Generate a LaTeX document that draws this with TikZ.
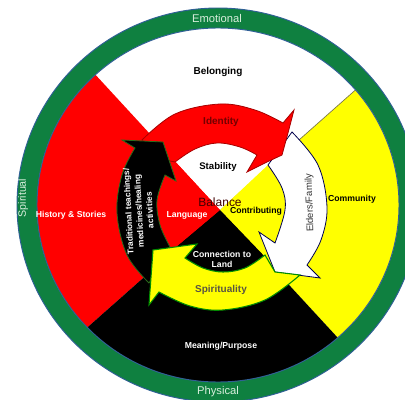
\documentclass[tikz,border=0pt]{standalone}
\usepackage{fontspec}
\setmainfont{Liberation Sans}
\definecolor{ringgreen}{HTML}{0F8040}
\definecolor{ringblue}{HTML}{2F5F96}
\definecolor{arrowgreen}{HTML}{2A6A1A}
\definecolor{paleletter}{HTML}{D8EEDC}
\definecolor{pureyellow}{RGB}{255,255,0}
\definecolor{purered}{RGB}{255,0,0}
\tikzset{
  lab/.style={font=\bfseries\fontsize{6.5}{7.5}\selectfont,align=center,inner sep=0pt},
  ringlab/.style={font=\fontsize{8.4}{10}\selectfont,text=paleletter,inner sep=0pt},
  arrowedge/.style={line width=.6pt,line join=miter},
  smoothp/.style={smooth,tension=.6}
}
\begin{document}
\begin{tikzpicture}[x=0.75pt,y=-0.75pt]
\useasboundingbox (0,0) rectangle (405,400);
\clip (0,0) rectangle (405,400);
\fill[white] (0,0) rectangle (405,400);
\coordinate (c) at (218,205);
\coordinate (m) at (220,210);
% ring
\fill[ringgreen,draw=ringblue,line width=.7pt] (c) ellipse (201 and 197);
\begin{scope}
\clip (c) ellipse (181 and 177);
\fill[white] (0,0) rectangle (405,400);
\fill[purered] (m) -- (34,8) -- (0,8) -- (0,400) -- (20,387) -- cycle;
\fill[pureyellow] (m) -- (422,31) -- (420,402) -- (397,402) -- cycle;
\fill[black] (m) -- (20,387) -- (20,420) -- (397,420) -- (397,402) -- cycle;
\draw[black!60!yellow,line width=.5pt] (m) -- (422,31);
\end{scope}
\draw[ringblue,line width=.7pt] (c) ellipse (181 and 177);
% inner sectors
\fill[white] (m) -- (172,158) -- (217,135) -- (272,160) -- cycle;
\fill[pureyellow] (m) -- (268,165) -- (290,210) -- (276,248) -- (268,260) -- cycle;
\fill[black] (m) -- (268,260) -- (223,280) -- (170,252) -- cycle;
\fill[purered] (m) -- (172,158) -- (150,200) -- (170,252) -- cycle;
% white arrow
\fill[white,draw=black!70!blue,arrowedge]
  plot[smoothp] coordinates {(292,132) (318,165) (327,207) (321,240) (307,265)}
  -- (320,278) -- (275,272) -- (259,232)
  -- plot[smoothp] coordinates {(275,243) (285,210) (282,188) (268,165)} -- cycle;
% red arrow
\fill[purered,draw=red!65!black,arrowedge]
  plot[smoothp] coordinates {(142,140) (175,114) (220,104) (255,110) (283,123)}
  -- (294,110) -- (288,133) -- (282,155) -- (267,162) -- (247,172)
  -- plot[smoothp] coordinates {(257,155) (240,147) (217,143) (195,149) (175,162)}
  -- (165,160) -- cycle;
% black arrow
\fill[black,draw=arrowgreen,arrowedge]
  plot[smoothp] coordinates {(149,283) (127,255) (117,213) (122,175) (135,148)}
  -- (122,140) -- (163,142) -- (176,181)
  -- plot[smoothp] coordinates {(165,175) (157,200) (160,225) (170,247)} -- cycle;
% yellow arrow
\fill[pureyellow,draw=green!55!black,line width=.8pt,line join=miter]
  plot[smoothp] coordinates {(159,292) (190,306) (223,310) (265,300) (300,275)}
  -- (275,272)
  -- plot[smoothp] coordinates {(265,255) (245,268) (223,272) (203,268) (185,258)}
  -- (197,244) -- (153,250) -- (149,305) -- cycle;
% texts
\node[ringlab] (emo) at (217,18) {Emotional};
\node[ringlab] (phy) at (218,392) {Physical};
\node[ringlab,rotate=90,font=\fontsize{8}{10}\selectfont] (spi) at (23,198) {Spiritual};
\node[lab,font=\bfseries\fontsize{7.5}{9}\selectfont] (bel) at (218,72) {Belonging};
\node[lab,text=white] (his) at (71,215) {History \& Stories};
\node[lab] (com) at (352,199) {Community};
\node[lab,text=white] (mea) at (221,346) {Meaning/Purpose};
\node[lab,text=red!45!black,font=\bfseries\fontsize{7.5}{9}\selectfont] (ide) at (221,122) {Identity};
\node[lab,font=\bfseries\fontsize{7.2}{9}\selectfont] (sta) at (218,167) {Stability};
\node[lab,font=\fontsize{9}{10}\selectfont,text=black!75!red] (bal) at (220,202) {Balance};
\node[lab,text=white] (lan) at (187,215) {Language};
\node[lab] (con) at (256,211) {Contributing};
\node[lab,text=white,font=\bfseries\fontsize{6.5}{7.5}\selectfont] (lnd) at (222,259) {Connection to\\Land};
\node[lab,text=black!75!yellow,font=\bfseries\fontsize{7.5}{9}\selectfont] (spt) at (221,290) {Spirituality};
\node[lab,rotate=92,font=\fontsize{7.2}{8.4}\selectfont,text=black!80] (eld) at (310,203) {Elders/Family};
\node[lab,rotate=93,text=white,font=\bfseries\fontsize{6.3}{8}\selectfont] (tra) at (139,211) {Traditional teachings/\\medicines/healing\\activities};
\end{tikzpicture}
\end{document}
